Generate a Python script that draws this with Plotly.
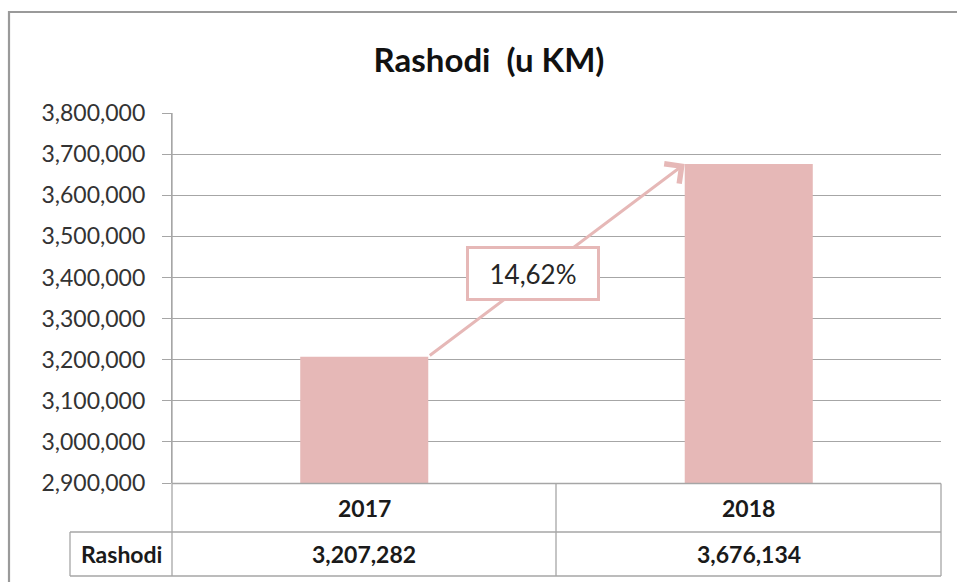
import plotly.graph_objects as go

categories = ["2017", "2018"]
values = [3207282, 3676134]
value_labels = ["3,207,282", "3,676,134"]
series_name = "Rashodi"
change_label = "14,62%"
title_text = "Rashodi  (u KM)"
y_ticks = [2900000, 3000000, 3100000, 3200000, 3300000, 3400000, 3500000, 3600000, 3700000, 3800000]

BAR = "#E6B8B7"
GRID = "#A6A6A6"
FONT = "Lato, 'Open Sans', sans-serif"

xpos = list(range(len(categories)))
bw = 0.333

fig = go.Figure()
fig.add_trace(go.Bar(x=xpos, y=values, width=bw, marker=dict(color=BAR, line=dict(width=0)),
                     base=0, hoverinfo="skip", showlegend=False))

L, R, T, B = 172, 16, 113, 99
W, H = 957, 582
pw = W - L - R
ph = H - T - B

def px_x(p):
    return (p - L) / pw

def px_y(p):
    return (H - B - p) / ph

shapes = []
line = dict(color=GRID, width=1.3)
# outer border
shapes.append(dict(type="rect", xref="paper", yref="paper", x0=px_x(9), x1=px_x(1000),
                   y0=px_y(640), y1=px_y(12), line=dict(color="#9A9A9A", width=2.2), layer="below"))
# table lines
shapes.append(dict(type="line", xref="paper", yref="paper", x0=0, x1=1, y0=px_y(483.5), y1=px_y(483.5), line=line))
shapes.append(dict(type="line", xref="paper", yref="paper", x0=px_x(70), x1=1, y0=px_y(532), y1=px_y(532), line=line))
shapes.append(dict(type="line", xref="paper", yref="paper", x0=px_x(70), x1=1, y0=px_y(576), y1=px_y(576), line=line))
shapes.append(dict(type="line", xref="paper", yref="paper", x0=px_x(70), x1=px_x(70), y0=px_y(576), y1=px_y(532), line=line))
shapes.append(dict(type="line", xref="paper", yref="paper", x0=0, x1=0, y0=px_y(576), y1=1, line=line))
for xp in [556, 941]:
    shapes.append(dict(type="line", xref="paper", yref="paper", x0=px_x(xp), x1=px_x(xp), y0=px_y(576), y1=px_y(483.5), line=line))

TXT = "#1a1a1a"
annotations = []
# arrow between bar tops
annotations.append(dict(x=xpos[1] - bw / 2, y=values[1], ax=xpos[0] + bw / 2, ay=values[0],
                        xref="x", yref="y", axref="x", ayref="y", text="", showarrow=True,
                        arrowhead=4, arrowsize=1.6, arrowwidth=3, arrowcolor=BAR, standoff=0))
# percent box
annotations.append(dict(x=0.44, y=3409000, xref="x", yref="y", text=change_label, showarrow=False,
                        xanchor="center", yanchor="middle",
                        font=dict(family=FONT, size=26, color="#262626"), bgcolor="white",
                        bordercolor=BAR, borderwidth=3, width=126, height=47))
# table texts
for i, c in enumerate(categories):
    annotations.append(dict(x=xpos[i], y=px_y(508), xref="x", yref="paper", text="<b>%s</b>" % c,
                            xanchor="center", yanchor="middle",
                            showarrow=False, font=dict(family=FONT, size=23, color=TXT)))
    annotations.append(dict(x=xpos[i], y=px_y(554), xref="x", yref="paper", text="<b>%s</b>" % value_labels[i],
                            xanchor="center", yanchor="middle",
                            showarrow=False, font=dict(family=FONT, size=23, color=TXT)))
annotations.append(dict(x=px_x(121), y=px_y(554), xref="paper", yref="paper", text="<b>%s</b>" % series_name,
                        xanchor="center", yanchor="middle",
                        showarrow=False, font=dict(family=FONT, size=23, color=TXT)))

fig.update_layout(
    width=W, height=H,
    margin=dict(l=L, r=R, t=T, b=B),
    paper_bgcolor="white", plot_bgcolor="white",
    title=dict(text="<b>%s</b>" % title_text, x=489 / W, xanchor="center", y=1 - 60 / H, yanchor="middle",
               font=dict(family=FONT, size=33, color="#111111")),
    xaxis=dict(range=[-0.5, 1.5], showticklabels=False, showgrid=False, zeroline=False, showline=False, ticks=""),
    yaxis=dict(range=[2900000, 3800000], tickvals=y_ticks, tickformat=",d", showgrid=True, gridcolor=GRID,
               gridwidth=1.3, zeroline=False, showline=True, linecolor=GRID, linewidth=1.3,
               ticks="outside", ticklen=9, tickcolor=GRID, tickwidth=1.3, ticklabelstandoff=12,
               tickfont=dict(family=FONT, size=23, color="#333333")),
    shapes=shapes, annotations=annotations,
)

fig.write_html("out.html", config={"displayModeBar": False},
               post_script="document.body.style.margin='0';")
